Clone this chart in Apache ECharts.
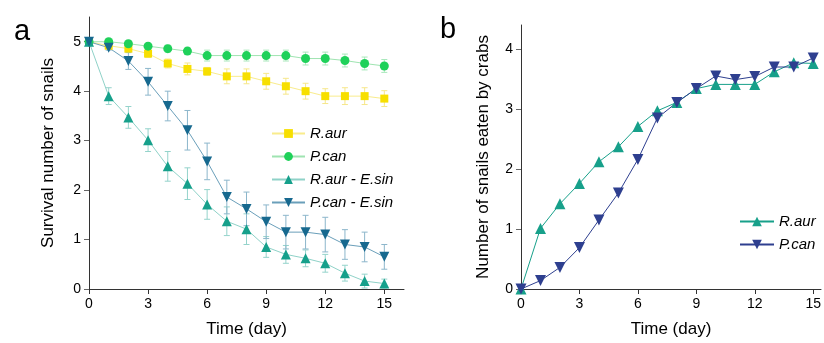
<!DOCTYPE html>
<html>
<head>
<meta charset="utf-8">
<script src="https://cdn.jsdelivr.net/npm/echarts@6/dist/echarts.min.js"></script>
<style>
    html, body { margin: 0; padding: 0; background: #fff; }
    #chart { width: 824px; height: 343px; }
</style>
</head>
<body>
<div id="chart"></div>
<script>
    // data
    var days = [0, 1, 2, 3, 4, 5, 6, 7, 8, 9, 10, 11, 12, 13, 14, 15];
    var xTicks = [0, 3, 6, 9, 12, 15];
    var yTicksA = [0, 1, 2, 3, 4, 5];
    var yTicksB = [0, 1, 2, 3, 4];

    // panel a: survival number of snails
    var rAur = [5, 4.92, 4.86, 4.76, 4.56, 4.45, 4.40, 4.30, 4.30, 4.20, 4.10, 4.00, 3.90, 3.90, 3.90, 3.85];
    var rAurErr = [0, 0.05, 0.06, 0.08, 0.09, 0.12, 0.08, 0.15, 0.15, 0.16, 0.16, 0.16, 0.15, 0.17, 0.17, 0.16];
    var pCan = [5, 5.0, 4.96, 4.91, 4.86, 4.81, 4.72, 4.72, 4.72, 4.72, 4.72, 4.66, 4.66, 4.62, 4.56, 4.51];
    var pCanErr = [0, 0.05, 0.05, 0.05, 0.07, 0.07, 0.11, 0.11, 0.11, 0.11, 0.11, 0.13, 0.13, 0.13, 0.13, 0.13];
    var rAurEs = [5, 3.90, 3.47, 3.01, 2.48, 2.13, 1.71, 1.37, 1.21, 0.85, 0.70, 0.62, 0.52, 0.32, 0.16, 0.11];
    var rAurEsErr = [0, 0.17, 0.22, 0.23, 0.30, 0.32, 0.30, 0.29, 0.31, 0.21, 0.18, 0.17, 0.18, 0.16, 0.14, 0.09];
    var pCanEs = [5, 4.88, 4.61, 4.19, 3.70, 3.21, 2.58, 1.86, 1.62, 1.36, 1.15, 1.15, 1.10, 0.90, 0.85, 0.65];
    var pCanEsErr = [0, 0.05, 0.17, 0.27, 0.30, 0.40, 0.37, 0.34, 0.34, 0.34, 0.34, 0.34, 0.35, 0.30, 0.30, 0.25];

    // panel b: number of snails eaten by crabs
    var eatRAur = [0, 1.01, 1.42, 1.76, 2.12, 2.37, 2.71, 2.97, 3.11, 3.34, 3.41, 3.41, 3.41, 3.62, 3.77, 3.76];
    var eatPCan = [0, 0.14, 0.36, 0.69, 1.15, 1.60, 2.16, 2.85, 3.11, 3.34, 3.55, 3.49, 3.54, 3.70, 3.70, 3.85];

    var font = 'Liberation Sans, Arial, sans-serif';

    function pairs(vals) {
        return days.map(function (d, i) { return [d, vals[i]]; });
    }

    // 误差线
    function errBars(vals, errs, color, xi, yi) {
        return {
            type: 'custom',
            xAxisIndex: xi,
            yAxisIndex: yi,
            z: 1,
            silent: true,
            data: days.map(function (d, i) { return [d, vals[i] - errs[i], vals[i] + errs[i]]; }),
            encode: { x: 0, y: [1, 2] },
            renderItem: function (params, api) {
                var lo = api.coord([api.value(0), api.value(1)]);
                var hi = api.coord([api.value(0), api.value(2)]);
                var w = 3;
                var st = { stroke: color, lineWidth: 1 };
                return {
                    type: 'group',
                    children: [
                        { type: 'line', shape: { x1: lo[0], y1: lo[1], x2: hi[0], y2: hi[1] }, style: st },
                        { type: 'line', shape: { x1: lo[0] - w, y1: lo[1], x2: lo[0] + w, y2: lo[1] }, style: st },
                        { type: 'line', shape: { x1: hi[0] - w, y1: hi[1], x2: hi[0] + w, y2: hi[1] }, style: st }
                    ]
                };
            }
        };
    }

    function line(name, vals, symbol, size, color, lineColor, xi, yi) {
        return {
            name: name,
            type: 'line',
            xAxisIndex: xi,
            yAxisIndex: yi,
            z: 3,
            data: pairs(vals),
            symbol: symbol,
            symbolSize: size,
            itemStyle: { color: color },
            lineStyle: { color: lineColor, width: 1 },
            emphasis: { disabled: true }
        };
    }

    var downTri = 'path://M0,0 L10,0 L5,9 Z';
    var upTri = 'triangle';

    function xAxis(idx, max) {
        return {
            type: 'value', gridIndex: idx, min: 0, max: max,
            name: 'Time (day)', nameLocation: 'middle', nameGap: 32,
            nameTextStyle: { fontFamily: font, fontSize: 17, color: '#000' },
            axisLine: { lineStyle: { color: '#333', width: 1 } },
            axisTick: { customValues: xTicks, length: 5, lineStyle: { color: '#333' } },
            axisLabel: { customValues: xTicks, fontFamily: font, fontSize: 14, color: '#000', margin: 8 },
            splitLine: { show: false }
        };
    }

    function yAxis(idx, max, ticks, name, gap) {
        return {
            type: 'value', gridIndex: idx, min: 0, max: max,
            name: name, nameLocation: 'middle', nameGap: gap,
            nameTextStyle: { fontFamily: font, fontSize: 17, color: '#000' },
            axisLine: { show: true, lineStyle: { color: '#333', width: 1 } },
            axisTick: { show: true, customValues: ticks, length: 5, lineStyle: { color: '#666' } },
            axisLabel: { customValues: ticks, fontFamily: font, fontSize: 14, color: '#000', margin: 8 },
            splitLine: { show: false }
        };
    }

    var myChart = echarts.init(document.getElementById('chart'), null, { renderer: 'canvas' });

    var option = {
        animation: false,
        backgroundColor: '#fff',
        title: [
            { text: 'a', left: 9, top: 12, textStyle: { fontFamily: font, fontSize: 29, fontWeight: 'normal', color: '#000' } },
            { text: 'b', left: 435, top: 10, textStyle: { fontFamily: font, fontSize: 29, fontWeight: 'normal', color: '#000' } }
        ],
        grid: [
            { left: 89, top: 17, right: 420, bottom: 52 },
            { left: 521, top: 25, right: 0, bottom: 51 }
        ],
        xAxis: [xAxis(0, 16), xAxis(1, 15.4)],
        yAxis: [
            yAxis(0, 5.5, yTicksA, 'Survival number of snails', 32),
            yAxis(1, 4.4, yTicksB, 'Number of snails eaten by crabs', 29)
        ],
        legend: [
            {
                data: ['R.aur', 'P.can', 'R.aur - E.sin', 'P.can - E.sin'],
                orient: 'vertical', left: 266, top: 121, itemWidth: 33, itemHeight: 11, itemGap: 8,
                textStyle: { fontFamily: font, fontSize: 15, fontStyle: 'italic', color: '#000' },
                selectedMode: false
            },
            {
                data: ['R.aur ', 'P.can '],
                orient: 'vertical', left: 734, top: 209, itemWidth: 34, itemHeight: 12, itemGap: 8,
                textStyle: { fontFamily: font, fontSize: 15, fontStyle: 'italic', color: '#000' },
                selectedMode: false
            }
        ],
        series: [
            errBars(rAur, rAurErr, '#f6e78a', 0, 0),
            errBars(pCan, pCanErr, '#a8e8bb', 0, 0),
            errBars(rAurEs, rAurEsErr, '#94d3cb', 0, 0),
            errBars(pCanEs, pCanEsErr, '#8cb6cb', 0, 0),
            line('R.aur', rAur, 'rect', 8, '#f7df00', '#f9ec8c', 0, 0),
            line('P.can', pCan, 'circle', 9, '#1fd15a', '#9fe4b1', 0, 0),
            line('R.aur - E.sin', rAurEs, upTri, 10, '#16a08b', '#8fd2c8', 0, 0),
            line('P.can - E.sin', pCanEs, downTri, 10, '#17698f', '#6a9fba', 0, 0),
            line('R.aur ', eatRAur, upTri, 11, '#17a08a', '#17a08a', 1, 1),
            line('P.can ', eatPCan, downTri, 11, '#2e3f8f', '#2e3f8f', 1, 1)
        ]
    };

    myChart.setOption(option);
</script>
</body>
</html>
